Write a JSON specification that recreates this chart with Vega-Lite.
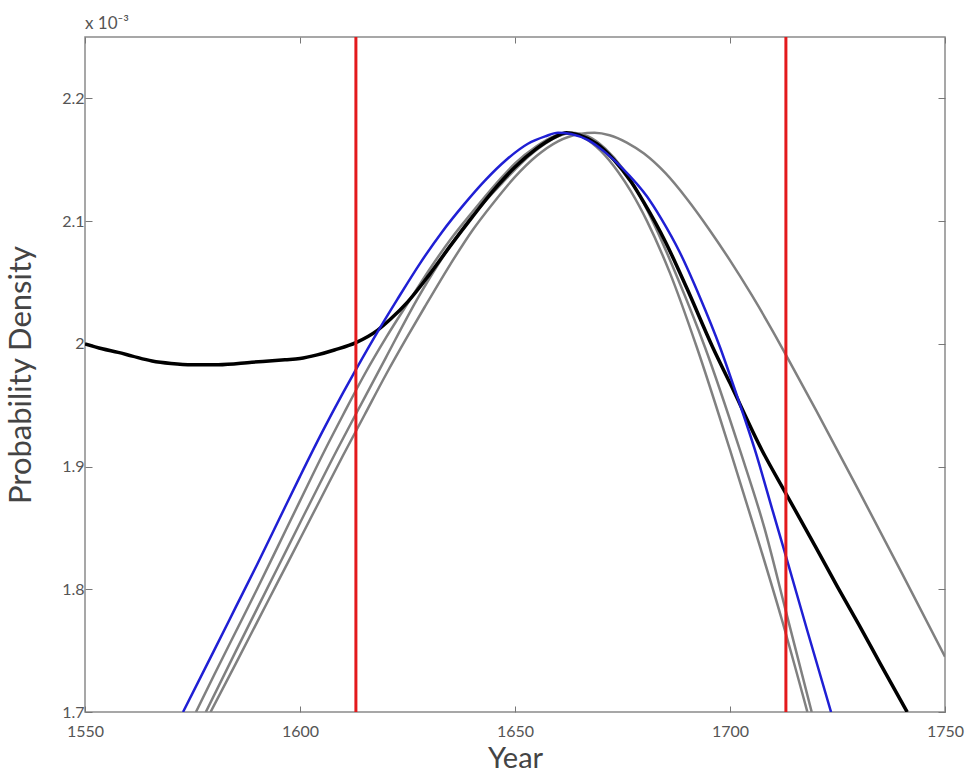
{
  "$schema": "https://vega.github.io/schema/vega-lite/v6.json",
  "width": 860,
  "height": 675,
  "autosize": {"type": "none"},
  "padding": {"left": 85, "top": 37, "right": 21, "bottom": 63},
  "background": "white",
  "config": {"view": {"stroke": "#8a8a8a", "strokeWidth": 1.5}, "font": "Lato"},
  "title": {"text": "x 10⁻³", "anchor": "start", "frame": "group", "fontSize": 17, "fontWeight": "normal", "color": "#555", "offset": 3},
  "datasets": {
    "curves": [
      {"curve": "g1", "year": 1575.8, "density": 1.700}, {"curve": "g1", "year": 1580, "density": 1.730}, {"curve": "g1", "year": 1585, "density": 1.765}, {"curve": "g1", "year": 1590, "density": 1.800}, {"curve": "g1", "year": 1595, "density": 1.836}, {"curve": "g1", "year": 1600, "density": 1.872}, {"curve": "g1", "year": 1605.8, "density": 1.9135}, {"curve": "g1", "year": 1610, "density": 1.942}, {"curve": "g1", "year": 1615, "density": 1.975}, {"curve": "g1", "year": 1620, "density": 2.005}, {"curve": "g1", "year": 1625.6, "density": 2.036}, {"curve": "g1", "year": 1630, "density": 2.060}, {"curve": "g1", "year": 1635, "density": 2.085}, {"curve": "g1", "year": 1640, "density": 2.107}, {"curve": "g1", "year": 1646.5, "density": 2.134}, {"curve": "g1", "year": 1650, "density": 2.147}, {"curve": "g1", "year": 1655, "density": 2.161}, {"curve": "g1", "year": 1659, "density": 2.169}, {"curve": "g1", "year": 1662.5, "density": 2.172}, {"curve": "g1", "year": 1666, "density": 2.168}, {"curve": "g1", "year": 1670, "density": 2.157}, {"curve": "g1", "year": 1674, "density": 2.140}, {"curve": "g1", "year": 1677, "density": 2.124}, {"curve": "g1", "year": 1680.7, "density": 2.100}, {"curve": "g1", "year": 1686, "density": 2.058}, {"curve": "g1", "year": 1692.3, "density": 1.997}, {"curve": "g1", "year": 1700, "density": 1.9135}, {"curve": "g1", "year": 1706, "density": 1.846}, {"curve": "g1", "year": 1712, "density": 1.776}, {"curve": "g1", "year": 1718, "density": 1.700},
      {"curve": "g2", "year": 1578.1, "density": 1.700}, {"curve": "g2", "year": 1585, "density": 1.749}, {"curve": "g2", "year": 1590, "density": 1.784}, {"curve": "g2", "year": 1595, "density": 1.819}, {"curve": "g2", "year": 1600, "density": 1.854}, {"curve": "g2", "year": 1608.6, "density": 1.9135}, {"curve": "g2", "year": 1615, "density": 1.956}, {"curve": "g2", "year": 1620, "density": 1.989}, {"curve": "g2", "year": 1627.2, "density": 2.036}, {"curve": "g2", "year": 1632, "density": 2.064}, {"curve": "g2", "year": 1637, "density": 2.090}, {"curve": "g2", "year": 1642, "density": 2.112}, {"curve": "g2", "year": 1647, "density": 2.131}, {"curve": "g2", "year": 1652, "density": 2.149}, {"curve": "g2", "year": 1657, "density": 2.163}, {"curve": "g2", "year": 1660, "density": 2.169}, {"curve": "g2", "year": 1663, "density": 2.172}, {"curve": "g2", "year": 1667, "density": 2.169}, {"curve": "g2", "year": 1671, "density": 2.159}, {"curve": "g2", "year": 1675, "density": 2.143}, {"curve": "g2", "year": 1678, "density": 2.127}, {"curve": "g2", "year": 1682, "density": 2.100}, {"curve": "g2", "year": 1688, "density": 2.052}, {"curve": "g2", "year": 1694.2, "density": 1.997}, {"curve": "g2", "year": 1702.3, "density": 1.9135}, {"curve": "g2", "year": 1708, "density": 1.850}, {"curve": "g2", "year": 1713, "density": 1.782}, {"curve": "g2", "year": 1719, "density": 1.700},
      {"curve": "g3", "year": 1579.2, "density": 1.700}, {"curve": "g3", "year": 1585, "density": 1.739}, {"curve": "g3", "year": 1590, "density": 1.773}, {"curve": "g3", "year": 1595, "density": 1.807}, {"curve": "g3", "year": 1600, "density": 1.841}, {"curve": "g3", "year": 1605, "density": 1.875}, {"curve": "g3", "year": 1610, "density": 1.909}, {"curve": "g3", "year": 1615, "density": 1.942}, {"curve": "g3", "year": 1620, "density": 1.975}, {"curve": "g3", "year": 1625, "density": 2.006}, {"curve": "g3", "year": 1629, "density": 2.030}, {"curve": "g3", "year": 1635, "density": 2.065}, {"curve": "g3", "year": 1640, "density": 2.092}, {"curve": "g3", "year": 1645, "density": 2.115}, {"curve": "g3", "year": 1650, "density": 2.136}, {"curve": "g3", "year": 1655, "density": 2.153}, {"curve": "g3", "year": 1660, "density": 2.165}, {"curve": "g3", "year": 1665, "density": 2.171}, {"curve": "g3", "year": 1668.5, "density": 2.172}, {"curve": "g3", "year": 1672, "density": 2.170}, {"curve": "g3", "year": 1676, "density": 2.164}, {"curve": "g3", "year": 1680, "density": 2.155}, {"curve": "g3", "year": 1685, "density": 2.139}, {"curve": "g3", "year": 1690, "density": 2.118}, {"curve": "g3", "year": 1695, "density": 2.094}, {"curve": "g3", "year": 1700, "density": 2.068}, {"curve": "g3", "year": 1705, "density": 2.040}, {"curve": "g3", "year": 1710, "density": 2.010}, {"curve": "g3", "year": 1713, "density": 1.991}, {"curve": "g3", "year": 1720, "density": 1.946}, {"curve": "g3", "year": 1730, "density": 1.880}, {"curve": "g3", "year": 1740, "density": 1.813}, {"curve": "g3", "year": 1750, "density": 1.745},
      {"curve": "black", "year": 1550, "density": 2.000}, {"curve": "black", "year": 1554, "density": 1.996}, {"curve": "black", "year": 1557.7, "density": 1.993}, {"curve": "black", "year": 1561, "density": 1.990}, {"curve": "black", "year": 1565.6, "density": 1.986}, {"curve": "black", "year": 1570, "density": 1.984}, {"curve": "black", "year": 1575, "density": 1.983}, {"curve": "black", "year": 1581, "density": 1.983}, {"curve": "black", "year": 1588.8, "density": 1.985}, {"curve": "black", "year": 1596.5, "density": 1.987}, {"curve": "black", "year": 1600, "density": 1.988}, {"curve": "black", "year": 1604, "density": 1.991}, {"curve": "black", "year": 1608, "density": 1.995}, {"curve": "black", "year": 1613, "density": 2.001}, {"curve": "black", "year": 1618, "density": 2.011}, {"curve": "black", "year": 1621, "density": 2.020}, {"curve": "black", "year": 1625, "density": 2.034}, {"curve": "black", "year": 1630, "density": 2.056}, {"curve": "black", "year": 1635, "density": 2.080}, {"curve": "black", "year": 1640, "density": 2.103}, {"curve": "black", "year": 1645, "density": 2.125}, {"curve": "black", "year": 1650, "density": 2.144}, {"curve": "black", "year": 1655, "density": 2.159}, {"curve": "black", "year": 1659, "density": 2.168}, {"curve": "black", "year": 1662, "density": 2.172}, {"curve": "black", "year": 1665, "density": 2.170}, {"curve": "black", "year": 1669, "density": 2.163}, {"curve": "black", "year": 1673, "density": 2.150}, {"curve": "black", "year": 1677, "density": 2.132}, {"curve": "black", "year": 1680, "density": 2.115}, {"curve": "black", "year": 1685, "density": 2.083}, {"curve": "black", "year": 1690, "density": 2.045}, {"curve": "black", "year": 1696, "density": 1.997}, {"curve": "black", "year": 1700, "density": 1.968}, {"curve": "black", "year": 1707.4, "density": 1.9135}, {"curve": "black", "year": 1713, "density": 1.878}, {"curve": "black", "year": 1720, "density": 1.834}, {"curve": "black", "year": 1725, "density": 1.802}, {"curve": "black", "year": 1730, "density": 1.771}, {"curve": "black", "year": 1735, "density": 1.739}, {"curve": "black", "year": 1741.2, "density": 1.700},
      {"curve": "blue", "year": 1572.8, "density": 1.700}, {"curve": "blue", "year": 1580, "density": 1.750}, {"curve": "blue", "year": 1585, "density": 1.785}, {"curve": "blue", "year": 1590, "density": 1.820}, {"curve": "blue", "year": 1595, "density": 1.856}, {"curve": "blue", "year": 1600, "density": 1.892}, {"curve": "blue", "year": 1605, "density": 1.927}, {"curve": "blue", "year": 1610, "density": 1.960}, {"curve": "blue", "year": 1613, "density": 1.979}, {"curve": "blue", "year": 1618.6, "density": 2.013}, {"curve": "blue", "year": 1622.6, "density": 2.036}, {"curve": "blue", "year": 1628, "density": 2.066}, {"curve": "blue", "year": 1633, "density": 2.091}, {"curve": "blue", "year": 1638, "density": 2.113}, {"curve": "blue", "year": 1643, "density": 2.133}, {"curve": "blue", "year": 1648, "density": 2.150}, {"curve": "blue", "year": 1653, "density": 2.163}, {"curve": "blue", "year": 1657, "density": 2.169}, {"curve": "blue", "year": 1660, "density": 2.172}, {"curve": "blue", "year": 1663, "density": 2.171}, {"curve": "blue", "year": 1667, "density": 2.166}, {"curve": "blue", "year": 1671, "density": 2.156}, {"curve": "blue", "year": 1675, "density": 2.143}, {"curve": "blue", "year": 1680.7, "density": 2.120}, {"curve": "blue", "year": 1684, "density": 2.102}, {"curve": "blue", "year": 1688.4, "density": 2.074}, {"curve": "blue", "year": 1693, "density": 2.038}, {"curve": "blue", "year": 1697.7, "density": 1.997}, {"curve": "blue", "year": 1701, "density": 1.964}, {"curve": "blue", "year": 1705.8, "density": 1.9135}, {"curve": "blue", "year": 1710, "density": 1.863}, {"curve": "blue", "year": 1713, "density": 1.827}, {"curve": "blue", "year": 1718, "density": 1.766}, {"curve": "blue", "year": 1723.5, "density": 1.700}
    ],
    "bounds": [{"year": 1613}, {"year": 1713}]
  },
  "resolve": {"axis": {"x": "independent", "y": "independent"}},
  "layer": [
    {
      "data": {"name": "curves"},
      "transform": [{"filter": "datum.curve != 'black' && datum.curve != 'blue'"}],
      "mark": {"type": "line", "color": "#808080", "strokeWidth": 2.5, "clip": true, "interpolate": "monotone"},
      "encoding": {
        "x": {"field": "year", "type": "quantitative", "scale": {"domain": [1550, 1750], "nice": false, "zero": false},
          "axis": {"orient": "bottom", "values": [1550, 1600, 1650, 1700, 1750], "format": "d", "tickSize": -6, "tickColor": "#777", "tickWidth": 1, "labelFontSize": 16, "labelColor": "#555", "labelPadding": 17, "labelFlush": false, "domain": false, "grid": false, "title": "Year", "titleFontSize": 29, "titleFontWeight": "normal", "titleColor": "#444", "titlePadding": 5}},
        "y": {"field": "density", "type": "quantitative", "scale": {"domain": [1.7, 2.25], "nice": false, "zero": false},
          "axis": {"orient": "left", "values": [1.7, 1.8, 1.9, 2.0, 2.1, 2.2], "format": "~g", "tickSize": -7, "tickColor": "#777", "tickWidth": 1, "labelFontSize": 16, "labelColor": "#555", "labelPadding": 8, "labelFlush": false, "domain": false, "grid": false, "title": "Probability Density", "titleFontSize": 31, "titleFontWeight": "normal", "titleColor": "#444", "titlePadding": 24}},
        "detail": {"field": "curve"}
      }
    },
    {
      "data": {"name": "curves"},
      "transform": [{"filter": "datum.curve == 'black'"}],
      "mark": {"type": "line", "color": "#000000", "strokeWidth": 3.5, "clip": true, "interpolate": "monotone"},
      "encoding": {
        "x": {"field": "year", "type": "quantitative", "axis": null},
        "y": {"field": "density", "type": "quantitative",
          "axis": {"orient": "right", "values": [1.7, 1.8, 1.9, 2.0, 2.1, 2.2], "tickSize": -7, "tickColor": "#777", "labels": false, "domain": false, "grid": false, "title": null}}
      }
    },
    {
      "data": {"name": "curves"},
      "transform": [{"filter": "datum.curve == 'blue'"}],
      "mark": {"type": "line", "color": "#1f1fd4", "strokeWidth": 2.5, "clip": true, "interpolate": "monotone"},
      "encoding": {
        "x": {"field": "year", "type": "quantitative", "axis": null},
        "y": {"field": "density", "type": "quantitative", "axis": null}
      }
    },
    {
      "data": {"name": "bounds"},
      "mark": {"type": "rule", "color": "#e31a1c", "strokeWidth": 3},
      "encoding": {
        "x": {"field": "year", "type": "quantitative",
          "axis": {"orient": "top", "values": [1550, 1600, 1650, 1700, 1750], "tickSize": -6, "tickColor": "#777", "labels": false, "domain": false, "grid": false, "title": null}}
      }
    }
  ]
}
